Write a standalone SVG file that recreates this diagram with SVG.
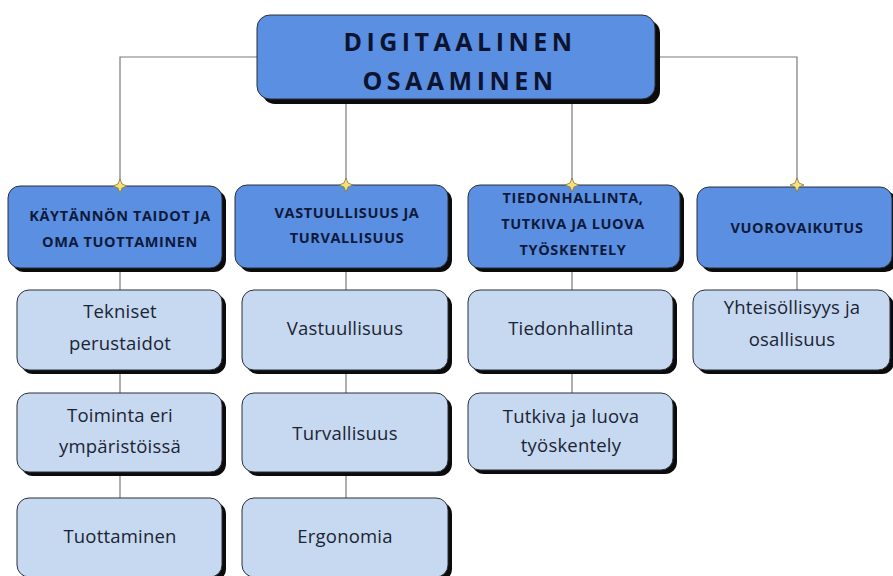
<svg xmlns="http://www.w3.org/2000/svg" width="893" height="576" viewBox="0 0 893 576">
<style>
.bg{fill:#ffffff}
.conn{stroke:#7a7a7a;stroke-width:1.2;fill:none}
.shadow{fill:#0b0b0b}
.main{fill:#5b8fe2;stroke:#2a2f3a;stroke-width:1}
.sub{fill:#c6d9f1;stroke:#2a2f3a;stroke-width:1}
.t0{font-family:"Open Sans","Liberation Sans",sans-serif;font-weight:bold;font-size:25px;letter-spacing:4.5px;fill:#0c1430;text-anchor:middle}
.t1{font-family:"Open Sans","Liberation Sans",sans-serif;font-weight:bold;font-size:14.5px;fill:#0e1a3a;text-anchor:middle;letter-spacing:0.6px}
.t2{font-family:"Open Sans","Liberation Sans",sans-serif;font-size:18.5px;fill:#1c2433;text-anchor:middle;letter-spacing:0.2px}
.star{fill:#f6e07e;stroke:#8a7a30;stroke-width:0.8}
</style>
<defs>
<path id="star" d="M0,-7 L2,-2 L7,0 L2,2 L0,7 L-2,2 L-7,0 L-2,-2 Z"/>
</defs>
<rect class="bg" x="0" y="0" width="893" height="576"/>
<g id="connectors">
<path class="conn" d="M257,57 H120 V186"/>
<path class="conn" d="M655,57 H797 V186"/>
<path class="conn" d="M346,100 V186"/>
<path class="conn" d="M572,100 V186"/>
<path class="conn" d="M120,268 V290 M120,370 V393 M120,472 V498"/>
<path class="conn" d="M346,268 V290 M346,370 V393 M346,472 V498"/>
<path class="conn" d="M572,268 V290 M572,370 V393"/>
<path class="conn" d="M797,268 V290"/>
</g>
<g id="root">
<rect class="shadow" x="262" y="20" width="398" height="84" rx="13"/>
<rect class="main" x="257" y="15" width="398" height="84" rx="13"/>
<text class="t0" x="460" y="51">DIGITAALINEN</text>
<text class="t0" x="460" y="90">OSAAMINEN</text>
</g>
<g id="n1">
<rect class="shadow" x="12" y="190" width="214" height="82" rx="12"/>
<rect class="main" x="8" y="186" width="214" height="82" rx="12"/>
<text class="t1" x="120" y="221">KÄYTÄNNÖN TAIDOT JA</text>
<text class="t1" x="120" y="247">OMA TUOTTAMINEN</text>
</g>
<g id="n2">
<rect class="shadow" x="239" y="189" width="213" height="83" rx="12"/>
<rect class="main" x="235" y="185" width="213" height="83" rx="12"/>
<text class="t1" x="347" y="218">VASTUULLISUUS JA</text>
<text class="t1" x="347" y="243">TURVALLISUUS</text>
</g>
<g id="n3">
<rect class="shadow" x="472" y="189" width="212" height="83" rx="12"/>
<rect class="main" x="468" y="185" width="212" height="83" rx="12"/>
<text class="t1" x="573" y="203">TIEDONHALLINTA,</text>
<text class="t1" x="573" y="229">TUTKIVA JA LUOVA</text>
<text class="t1" x="573" y="255">TYÖSKENTELY</text>
</g>
<g id="n4">
<rect class="shadow" x="701" y="191" width="196" height="81" rx="12"/>
<rect class="main" x="697" y="187" width="195" height="81" rx="12"/>
<text class="t1" x="797" y="233">VUOROVAIKUTUS</text>
</g>
<g id="s11">
<rect class="shadow" x="21" y="294" width="205" height="80" rx="12"/>
<rect class="sub" x="17" y="290" width="205" height="80" rx="12"/>
<text class="t2" x="120" y="318">Tekniset</text>
<text class="t2" x="120" y="350">perustaidot</text>
</g>
<g id="s12">
<rect class="shadow" x="21" y="397" width="205" height="79" rx="12"/>
<rect class="sub" x="17" y="393" width="205" height="79" rx="12"/>
<text class="t2" x="120" y="422">Toiminta eri</text>
<text class="t2" x="120" y="453">ympäristöissä</text>
</g>
<g id="s13">
<rect class="shadow" x="21" y="502" width="205" height="79" rx="12"/>
<rect class="sub" x="17" y="498" width="205" height="79" rx="12"/>
<text class="t2" x="120" y="543">Tuottaminen</text>
</g>
<g id="s21">
<rect class="shadow" x="246" y="294" width="206" height="80" rx="12"/>
<rect class="sub" x="242" y="290" width="206" height="80" rx="12"/>
<text class="t2" x="345" y="335">Vastuullisuus</text>
</g>
<g id="s22">
<rect class="shadow" x="246" y="397" width="206" height="79" rx="12"/>
<rect class="sub" x="242" y="393" width="206" height="79" rx="12"/>
<text class="t2" x="345" y="440">Turvallisuus</text>
</g>
<g id="s23">
<rect class="shadow" x="246" y="502" width="206" height="79" rx="12"/>
<rect class="sub" x="242" y="498" width="206" height="79" rx="12"/>
<text class="t2" x="345" y="543">Ergonomia</text>
</g>
<g id="s31">
<rect class="shadow" x="472" y="294" width="205" height="80" rx="12"/>
<rect class="sub" x="468" y="290" width="205" height="80" rx="12"/>
<text class="t2" x="571" y="335">Tiedonhallinta</text>
</g>
<g id="s32">
<rect class="shadow" x="472" y="397" width="205" height="77" rx="12"/>
<rect class="sub" x="468" y="393" width="205" height="77" rx="12"/>
<text class="t2" x="571" y="423">Tutkiva ja luova</text>
<text class="t2" x="571" y="452">työskentely</text>
</g>
<g id="s41">
<rect class="shadow" x="697" y="294" width="197" height="80" rx="12"/>
<rect class="sub" x="693" y="290" width="197" height="80" rx="12"/>
<text class="t2" x="792" y="314">Yhteisöllisyys ja</text>
<text class="t2" x="792" y="346">osallisuus</text>
</g>
<g id="stars">
<use href="#star" class="star" x="120" y="186"/>
<use href="#star" class="star" x="346" y="185"/>
<use href="#star" class="star" x="572" y="185"/>
<use href="#star" class="star" x="797" y="185"/>
</g>
</svg>
